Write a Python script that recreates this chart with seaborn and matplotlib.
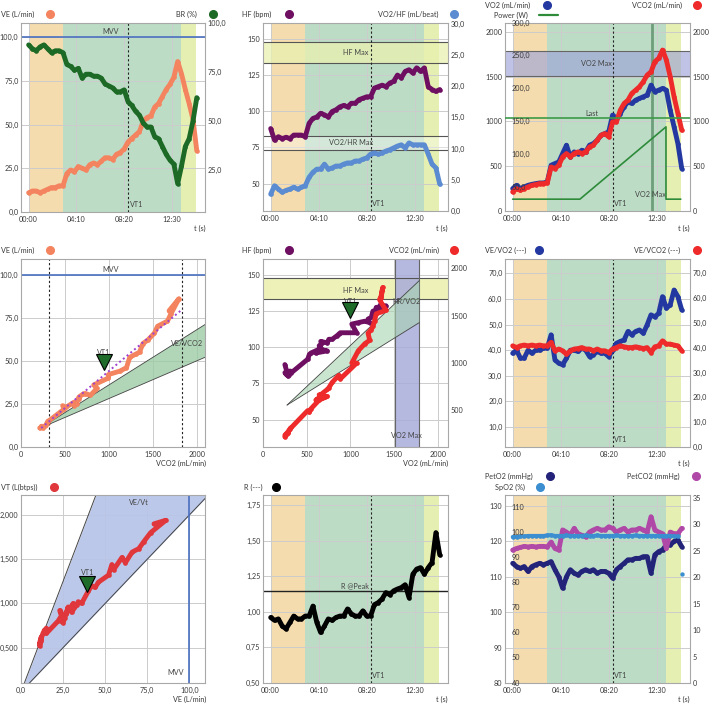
import matplotlib
matplotlib.use("Agg")
import matplotlib.pyplot as plt
import matplotlib.transforms as mtransforms
from matplotlib.lines import Line2D
import seaborn as sns

# ---- data (time grid every 20 s) ----
t_s = [0, 20, 40, 60, 80, 100, 120, 140, 160, 180,
       200, 220, 240, 260, 280, 300, 320, 340, 360, 380,
       400, 420, 440, 460, 480, 500, 520, 540, 560, 580,
       600, 620, 640, 660, 680, 700, 720, 740, 760, 780,
       800, 820, 840, 860, 880]
ve = [11, 12, 12, 11, 12, 13, 14, 14, 15, 15,
      22, 24, 23, 26, 25, 24, 27, 28, 27, 29,
      31, 31, 30, 33, 34, 36, 40, 42, 44, 46,
      52, 54, 55, 60, 62, 66, 70, 73, 77, 86,
      79, 70, 62, 53, 35]
br = [89, 87, 86, 88, 89, 87, 85, 86, 86, 85,
      79, 78, 76, 77, 72, 74, 74, 73, 73, 72,
      69, 68, 67, 65, 65, 66, 60, 58, 55, 53,
      49, 47, 47, 42, 41, 37, 33, 30, 28, 18,
      27, 37, 41, 50, 62]
hf = [88, 80, 82.4, 81, 82, 81, 83.5, 83.5, 83.5, 82.4,
      91.7, 95, 96, 98.6, 97.5, 96, 99.8, 101, 103, 104,
      103, 105.5, 105.5, 108, 109, 110, 110, 116, 117, 118,
      117, 119.5, 120.6, 125, 123, 127.5, 128.7, 126.4, 130, 127.5,
      130, 117, 115, 113.7, 115]
o2_pulse = [2.7, 4.05, 3.5, 3.0, 3.3, 3.5, 3.8, 3.5, 3.8, 4.05,
            5.4, 6.2, 6.7, 6.7, 7.5, 6.7, 6.9, 7.2, 7.2, 7.5,
            7.7, 7.7, 8.0, 8.0, 8.3, 8.5, 9.1, 9.3, 9.1, 9.3,
            9.6, 9.8, 10.1, 10.4, 10.6, 10.1, 10.9, 10.6, 10.6, 10.6,
            10.6, 9.1, 7.5, 6.9, 4.3]
vo2 = [250, 287, 250, 269, 287, 298, 306, 313, 313, 325,
       511, 530, 548, 642, 735, 604, 660, 642, 679, 660,
       735, 753, 791, 847, 865, 884, 1071, 1015, 1089, 1164,
       1220, 1201, 1238, 1257, 1276, 1294, 1406, 1332, 1350, 1369,
       1350, 1126, 940, 753, 474]
vco2 = [213, 250, 231, 250, 269, 287, 295, 306, 306, 313,
        492, 474, 511, 604, 642, 604, 642, 660, 642, 660,
        716, 735, 791, 847, 865, 828, 996, 996, 1126, 1201,
        1238, 1313, 1350, 1388, 1444, 1518, 1555, 1668, 1705, 1798,
        1686, 1500, 1276, 1089, 903]
ve_vo2 = [38.8, 40, 36.9, 36.9, 40, 38.8, 40, 40, 40.8, 40.8,
          46, 36.2, 34.9, 34.3, 36.9, 40, 40, 39.5, 40.8, 40,
          37.5, 38.2, 39.5, 38.8, 38.8, 37.5, 40, 42.7, 43.4, 44,
          47.3, 46, 47.3, 47.9, 46.6, 49.9, 53.8, 53, 54.4, 60.9,
          56.4, 57.7, 63.5, 60.9, 55.7]
ve_vco2 = [40.8, 40.1, 40.8, 41.1, 40.8, 41.1, 40.8, 41.1, 40.8, 40.8,
           42.2, 38.8, 39.5, 38.8, 37.4, 38.8, 39.5, 39.7, 40.1, 39.5,
           39.5, 38.8, 39.5, 38.8, 38.8, 38.1, 39.5, 40.1, 40.8, 40.4,
           40.1, 40.1, 40.4, 40.1, 39.7, 40.1, 38.1, 40.4, 40.8, 42.8,
           41.5, 41.5, 41.1, 40.8, 38.8]
vt = [0.55, 0.62, 0.58, 0.52, 0.60, 0.66, 0.70, 0.68, 0.72, 0.66,
      0.80, 0.86, 0.92, 0.84, 0.78, 0.80, 0.88, 0.96, 0.90, 0.94,
      1.00, 0.96, 0.90, 0.98, 1.02, 1.00, 1.14, 1.20, 1.18, 1.24,
      1.32, 1.44, 1.38, 1.52, 1.46, 1.58, 1.62, 1.70, 1.80, 1.94,
      1.90, 1.66, 1.54, 1.44, 1.10]
rer = [0.96, 0.94, 0.95, 0.90, 0.88, 0.925, 0.97, 0.95, 0.95, 0.97,
       0.97, 1.04, 0.925, 0.855, 0.90, 0.95, 0.94, 0.96, 0.97, 0.97,
       1.02, 0.985, 0.97, 0.97, 1.007, 0.97, 0.97, 1.05, 1.065, 1.09,
       1.135, 1.12, 1.147, 1.16, 1.17, 1.19, 1.10, 1.264, 1.30, 1.31,
       1.264, 1.31, 1.346, 1.556, 1.40]
pet_o2 = [113.8, 112.9, 112.4, 112.9, 111.5, 112.9, 113.4, 113.8, 113.4, 113.8,
          114.3, 112, 110, 106.8, 110, 112, 111, 110.5, 111.5, 112,
          111.5, 112, 111, 111.5, 111.5, 111, 109.6, 112, 112.9, 113.8,
          114.8, 114.8, 115.2, 115.2, 115.7, 115.7, 111, 116.2, 117.1, 117.6,
          119, 119, 120, 120.4, 118.5]
pet_co2 = [25.1, 25.4, 25.6, 25.8, 25.7, 25.8, 25.7, 25.8, 25.8, 25.7,
           26.6, 25.4, 25.1, 28.9, 28.5, 27.9, 29.2, 28.2, 27.9, 27.6,
           28.5, 28.9, 29.2, 28.9, 28.9, 29.5, 29.2, 28.5, 28.9, 29.2,
           28.5, 28.9, 28.9, 29.2, 28.9, 28.5, 31.4, 28.9, 28.5, 28.2,
           25.4, 28.5, 28.2, 28.2, 29.2]
spo2 = [98.3, 98.3, 98.5, 98.5, 98.7, 98.7, 98.7, 98.7, 98.7, 98.9,
        99.0, 98.7, 98.7, 98.7, 98.9, 98.7, 98.7, 98.7, 98.7, 98.9,
        98.7, 98.7, 98.9, 98.7, 98.7, 98.7, 98.7, 98.9, 98.7, 98.7,
        98.7, 98.7, 98.9, 98.7, 98.7, 98.7, 98.7, 98.7, 98.7, 98.7,
        98.7, 98.7, 98.5, 98.5, 83.6]
power_t = [0, 350, 798, 798, 875]
power_w = [32, 32, 142, 32, 32]

# reference values
rest_end, ex_end, rec_end = 180, 800, 877
vt1_t = 521
mvv = 100
hf_max = (133.5, 148)
o2p_max_hf_units = (73.1, 83.1)
vo2_max = (1511, 1784)
vo2_max_t = 725
power_last = 155
r_peak = 1.147
vco2_marks = [314, 1830]
vt1_ve_vco2 = (940, 49)
vt1_hf_vo2 = (1000, 125.5)
vt1_vt_ve = (39.5, 1.225)
n_ex = 41  # points up to end of exercise

ORANGE, GREEN, YELLOW = "#F5DCAE", "#BCDCC6", "#E6EFB2"
C_VE, C_BR, C_HF, C_O2P = "#F4845F", "#1C6A25", "#6E0F62", "#5B8BD0"
C_VO2, C_VCO2, C_PWR, C_VT = "#2338A0", "#EE2A2A", "#2E8B3A", "#E0373C"
C_PETO2, C_PETCO2, C_SPO2 = "#23237A", "#B048A8", "#3B8ED0"
C_MVV = "#4A6FC0"
TXT = "#3a3a3a"
FS = 5.2

sns.set_theme(style="white")
plt.rcParams['font.family'] = ['Lato', 'DejaVu Sans']

W, H = 709, 704
fig = plt.figure(figsize=(W / 100, H / 100), dpi=100)


def fx(x):
    return x / W


def fy(y):
    return 1 - y / H


def new_ax(x0, y0, x1, y1):
    ax = fig.add_axes([x0 / W, 1 - y1 / H, (x1 - x0) / W, (y1 - y0) / H])
    ax.set_facecolor("white")
    for s in ax.spines.values():
        s.set_color("#a8a8a8")
        s.set_linewidth(0.8)
    ax.tick_params(length=0, labelsize=FS, colors=TXT, pad=1.8)
    ax.tick_params(axis="x", pad=3)
    ax.grid(True, color="#cccccc", lw=0.7)
    ax.set_axisbelow(True)
    return ax


def twin(ax):
    tw = ax.twinx()
    tw.grid(False)
    for s in tw.spines.values():
        s.set_visible(False)
    tw.tick_params(length=0, labelsize=FS, colors=TXT, pad=1.8)
    return tw


def comma(v, nd=1):
    return f"{v:.{nd}f}".replace(".", ",")


def set_yt(ax, vals, nd=None):
    ax.set_yticks(vals)
    ax.set_yticklabels([str(v) if nd is None else comma(v, nd) for v in vals])


def head(text, x, y, ha, dot_x, color):
    fig.text(fx(x), fy(y), text, ha=ha, va="center", fontsize=FS, color=TXT)
    fig.add_artist(Line2D([fx(dot_x)], [fy(y)], marker="o", ms=5.5, color=color,
                          lw=0, transform=fig.transFigure))


def foot(text, x, y):
    fig.text(fx(x), fy(y), text, ha="right", va="center", fontsize=FS, color=TXT)


def time_axis(ax):
    ax.axvspan(0, rest_end, color=ORANGE, lw=0, zorder=0)
    ax.axvspan(rest_end, ex_end, color=GREEN, lw=0, zorder=0)
    ax.axvspan(ex_end, rec_end, color=YELLOW, lw=0, zorder=0)
    ax.axvline(vt1_t, color="#222222", ls=(0, (2, 2)), lw=0.8, zorder=1)
    tr = mtransforms.blended_transform_factory(ax.transData, ax.transAxes)
    ax.text(vt1_t + 8, 0.025, "VT1", transform=tr, fontsize=FS, color="#444444")
    ax.set_xlim(-40, 923)
    ax.set_xticks([0, 250, 500, 750])
    ax.set_xticklabels(["00:00", "04:10", "08:20", "12:30"])


def trace(ax, x, y, color, lw=3.5, s=11, line=True):
    if line:
        sns.lineplot(x=x, y=y, ax=ax, color=color, lw=lw, sort=False, estimator=None,
                     solid_capstyle="round", solid_joinstyle="round")
    sns.scatterplot(x=x, y=y, ax=ax, color=color, s=s, linewidth=0)


def label(ax, x, y, text, **kw):
    ax.text(x, y, text, fontsize=FS, color="#444444", **kw)


def vt1_marker(ax, x, y):
    ax.plot([x], [y], marker="v", ms=11, color="#1E6B2A", mec="black", mew=0.8, lw=0, zorder=6)


# ---------- panel 1: VE / BR ----------
ax = new_ax(21, 23, 205, 212)
time_axis(ax)
ax.axhline(mvv, color=C_MVV, lw=1.2)
label(ax, 427, mvv + 1.5, "MVV", ha="center")
trace(ax, t_s, ve, C_VE)
ax.set_ylim(0, 108)
set_yt(ax, [0, 25, 50, 75, 100], 1)
tw = twin(ax)
trace(tw, t_s, br, C_BR)
tw.set_ylim(3.5, 100.2)
set_yt(tw, [25, 50, 75, 100], 1)
head("VE (L/min)", 1, 14, "left", 50, C_VE)
head("BR (%)", 197, 14, "right", 213, C_BR)
foot("t (s)", 206, 228)

# ---------- panel 2: HF / VO2/HF ----------
ax = new_ax(263, 23, 448, 211)
time_axis(ax)
ax.axhspan(*hf_max, color="#EAF1B0", alpha=0.75, lw=0, zorder=0.6)
ax.axhspan(*o2p_max_hf_units, color="white", alpha=0.35, lw=0, zorder=0.6)
for v in list(hf_max) + list(o2p_max_hf_units):
    ax.axhline(v, color="#555555", lw=0.8, zorder=0.7)
label(ax, 440, 140.5, "HF Max", ha="center", va="center")
label(ax, 420, 78.5, "VO2/HR Max", ha="center", va="center")
trace(ax, t_s, hf, C_HF)
ax.set_ylim(31, 161)
set_yt(ax, [50, 75, 100, 125, 150])
tw = twin(ax)
trace(tw, t_s, o2_pulse, C_O2P)
tw.set_ylim(0, 30.1)
set_yt(tw, [0, 5, 10, 15, 20, 25, 30], 1)
head("HF (bpm)", 242, 14, "left", 289, C_HF)
head("VO2/HF (mL/beat)", 439, 14, "right", 454, C_O2P)
foot("t (s)", 448, 228)

# ---------- panel 3: VO2 / VCO2 / Power ----------
ax = new_ax(505, 23, 690, 211)
time_axis(ax)
ax.axhspan(*vo2_max, color="#9EA4D8", alpha=0.65, lw=0, zorder=0.6)
for v in vo2_max:
    ax.axhline(v, color="#666666", lw=0.8, zorder=0.7)
ax.axvline(vo2_max_t, color="#6E9E7A", lw=2.0, zorder=0.8)
label(ax, 438, 1648, "VO2 Max", ha="center", va="center")
trx = mtransforms.blended_transform_factory(ax.transData, ax.transAxes)
ax.text(vo2_max_t - 8, 0.075, "VO2 Max", transform=trx, ha="center", fontsize=FS, color="#444444")
trace(ax, t_s, vo2, C_VO2)
ax.set_ylim(0, 2100)
set_yt(ax, [0, 500, 1000, 1500, 2000])
tw = twin(ax)
trace(tw, t_s, vco2, C_VCO2)
tw.set_ylim(0, 2100)
set_yt(tw, [0, 500, 1000, 1500, 2000])
pw = twin(ax)
pw.set_yticks([])
pw.axhline(power_last, color="#3D9A48", lw=1.2)
label(pw, 410, power_last + 3, "Last", ha="center")
sns.lineplot(x=power_t, y=power_w, ax=pw, color=C_PWR, lw=1.2, sort=False, estimator=None)
pw.set_ylim(14, 300)
trp = mtransforms.blended_transform_factory(ax.transAxes, pw.transData)
for v in [50, 100, 150, 200, 250, 300]:
    pw.text(0.035, v, comma(v), transform=trp, fontsize=FS, color=TXT, va="center")
head("VO2 (mL/min)", 485, 5, "left", 547, C_VO2)
head("VCO2 (mL/min)", 682, 5, "right", 697, C_VCO2)
fig.text(fx(494), fy(15), "Power (W)", ha="left", va="center", fontsize=FS, color=TXT)
fig.add_artist(Line2D([fx(539), fx(558)], [fy(15), fy(15)], color=C_PWR, lw=1.6,
                      transform=fig.transFigure))
foot("t (s)", 690, 228)

# ---------- panel 4: VE vs VCO2 ----------
ax = new_ax(21, 259, 205, 447)
ax.set_xlim(0, 2095)
ax.set_ylim(0, 109)
ax.axhline(mvv, color=C_MVV, lw=1.2)
label(ax, 1015, mvv + 1.5, "MVV", ha="center")
for v in vco2_marks:
    ax.axvline(v, color="#222222", ls=(0, (2, 2)), lw=0.8)
slope_apex = (220, 11)
slope_end_x, slope_hi, slope_lo = 2095, 71, 52
ax.fill([slope_apex[0], slope_end_x, slope_end_x], [slope_apex[1], slope_hi, slope_lo],
        color="#9CCBA5", alpha=0.8, lw=0, zorder=1)
ax.plot([slope_apex[0], slope_end_x], [slope_apex[1], slope_hi], color="#444444", lw=0.6)
ax.plot([slope_apex[0], slope_end_x], [slope_apex[1], slope_lo], color="#444444", lw=0.6)
label(ax, 1890, 60, "VE/VCO2", ha="center", va="center")
trace(ax, vco2[:n_ex], ve[:n_ex], C_VE)
reg_x, reg_y = [230, 1840], [11, 80]
ax.plot(reg_x, reg_y, color="#A040D0", ls=(0, (1, 1.5)), lw=1.4, zorder=5)
vt1_marker(ax, *vt1_ve_vco2)
label(ax, vt1_ve_vco2[0], vt1_ve_vco2[1] + 4, "VT1", ha="center", va="bottom")
ax.set_xticks([0, 500, 1000, 1500, 2000])
set_yt(ax, [0, 25, 50, 75, 100], 1)
head("VE (L/min)", 1, 250, "left", 50, C_VE)
foot("VCO2 (mL/min)", 206, 463)

# ---------- panel 5: HF & VCO2 vs VO2 ----------
ax = new_ax(263, 259, 448, 447)
ax.set_xlim(0, 2115)
ax.set_ylim(31, 161)
ax.axhspan(*hf_max, color="#EEF2B8", lw=0, zorder=0.6)
for v in hf_max:
    ax.axhline(v, color="#555555", lw=0.8, zorder=0.7)
ax.axvspan(*vo2_max, color="#A8ACDA", alpha=0.85, lw=0, zorder=0.65)
for v in vo2_max:
    ax.axvline(v, color="#666666", lw=0.8, zorder=0.7)
hr_apex = (275, 60)
hr_end_x, hr_hi, hr_lo = 1786, 146, 117
ax.fill([hr_apex[0], hr_end_x, hr_end_x], [hr_apex[1], hr_hi, hr_lo],
        color="#A8D4B0", alpha=0.6, lw=0, zorder=1)
ax.plot([hr_apex[0], hr_end_x], [hr_apex[1], hr_hi], color="#444444", lw=0.6)
ax.plot([hr_apex[0], hr_end_x], [hr_apex[1], hr_lo], color="#444444", lw=0.6)
label(ax, 1060, 139, "HF Max", ha="center", va="center")
label(ax, 1640, 131.5, "HR/VO2", ha="center", va="center")
label(ax, 1640, 39, "VO2 Max", ha="center", va="center")
trace(ax, vo2[:n_ex], hf[:n_ex], C_HF)
vt1_marker(ax, *vt1_hf_vo2)
label(ax, vt1_hf_vo2[0], vt1_hf_vo2[1] + 3.5, "VT1", ha="center", va="bottom")
ax.set_xticks([0, 500, 1000, 1500, 2000])
set_yt(ax, [50, 75, 100, 125, 150])
tw = twin(ax)
trace(tw, vo2[:n_ex], vco2[:n_ex], C_VCO2)
tw.set_ylim(106, 2099)
set_yt(tw, [500, 1000, 1500, 2000])
head("HF (bpm)", 242, 250, "left", 289, C_HF)
head("VCO2 (mL/min)", 439, 250, "right", 454, C_VCO2)
foot("VO2 (mL/min)", 448, 463)

# ---------- panel 6: VE/VO2, VE/VCO2 ----------
ax = new_ax(505, 259, 690, 447)
time_axis(ax)
trace(ax, t_s, ve_vo2, C_VO2)
ax.set_ylim(2.2, 75.6)
set_yt(ax, [10, 20, 30, 40, 50, 60, 70], 1)
tw = twin(ax)
trace(tw, t_s, ve_vco2, C_VCO2)
tw.set_ylim(0, 75.8)
set_yt(tw, [0, 10, 20, 30, 40, 50, 60, 70], 1)
head("VE/VO2 (---)", 485, 250, "left", 539, C_VO2)
head("VE/VCO2 (---)", 680, 250, "right", 697, C_VCO2)
foot("t (s)", 690, 463)

# ---------- panel 7: VT vs VE ----------
ax = new_ax(21, 495, 205, 683)
ax.set_xlim(0, 109.3)
ax.set_ylim(0.1, 2.226)
rr_hi, rr_lo = 20, 50
cone_ve = [0, 109.3]
ax.fill_between(cone_ve, [v / rr_hi for v in cone_ve], [v / rr_lo for v in cone_ve],
                color="#B9C5E8", alpha=0.95, lw=0, zorder=1)
ax.plot(cone_ve, [v / rr_hi for v in cone_ve], color="#444444", lw=0.7)
ax.plot(cone_ve, [v / rr_lo for v in cone_ve], color="#444444", lw=0.7)
ax.axvline(mvv, color=C_MVV, lw=1.2)
label(ax, 69.8, 2.14, "VE/Vt", ha="center", va="center")
label(ax, 97, 0.22, "MVV", ha="right", va="center")
trace(ax, ve[:n_ex], vt[:n_ex], C_VT)
vt1_marker(ax, *vt1_vt_ve)
label(ax, vt1_vt_ve[0], vt1_vt_ve[1] + 0.09, "VT1", ha="center", va="bottom")
ax.set_xticks([0, 25, 50, 75, 100])
ax.set_xticklabels([comma(v) for v in [0, 25, 50, 75, 100]])
set_yt(ax, [0.5, 1.0, 1.5, 2.0], 3)
head("VT (L(btps))", 1, 487, "left", 54, C_VT)
foot("VE (L/min)", 206, 699)

# ---------- panel 8: R ----------
ax = new_ax(263, 495, 448, 683)
time_axis(ax)
ax.axhline(r_peak, color="#222222", lw=1.0)
label(ax, 437, r_peak + 0.012, "R @Peak", ha="center", va="bottom")
trace(ax, t_s, rer, "black")
ax.set_ylim(0.5, 1.82)
set_yt(ax, [0.5, 0.75, 1.0, 1.25, 1.5, 1.75], 2)
head("R (---)", 244, 487, "left", 276, "black")
foot("t (s)", 448, 699)

# ---------- panel 9: PetO2 / PetCO2 / SpO2 ----------
ax = new_ax(505, 495, 690, 683)
time_axis(ax)
trace(ax, t_s, pet_o2, C_PETO2)
ax.set_ylim(80, 133.1)
set_yt(ax, [80, 90, 100, 110, 120, 130])
tw = twin(ax)
trace(tw, t_s, pet_co2, C_PETCO2)
tw.set_ylim(0, 35.5)
set_yt(tw, [0, 5, 10, 15, 20, 25, 30, 35])
sp = twin(ax)
sp.set_yticks([])
trace(sp, t_s[:-1], spo2[:-1], C_SPO2, lw=2.8)
sns.scatterplot(x=t_s[-1:], y=spo2[-1:], ax=sp, color=C_SPO2, s=10, linewidth=0)
sp.set_ylim(40, 115)
trs = mtransforms.blended_transform_factory(ax.transAxes, sp.transData)
for v in [40, 50, 60, 70, 80, 90, 100, 110]:
    sp.text(0.035, v, str(v), transform=trs, fontsize=FS, color=TXT, va="center")
head("PetO2 (mmHg)", 485, 476, "left", 550, C_PETO2)
head("PetCO2 (mmHg)", 680, 476, "right", 696, C_PETCO2)
head("SpO2 (%)", 495, 487, "left", 540, C_SPO2)
foot("t (s)", 690, 699)

fig.savefig("out.png", dpi=100)
